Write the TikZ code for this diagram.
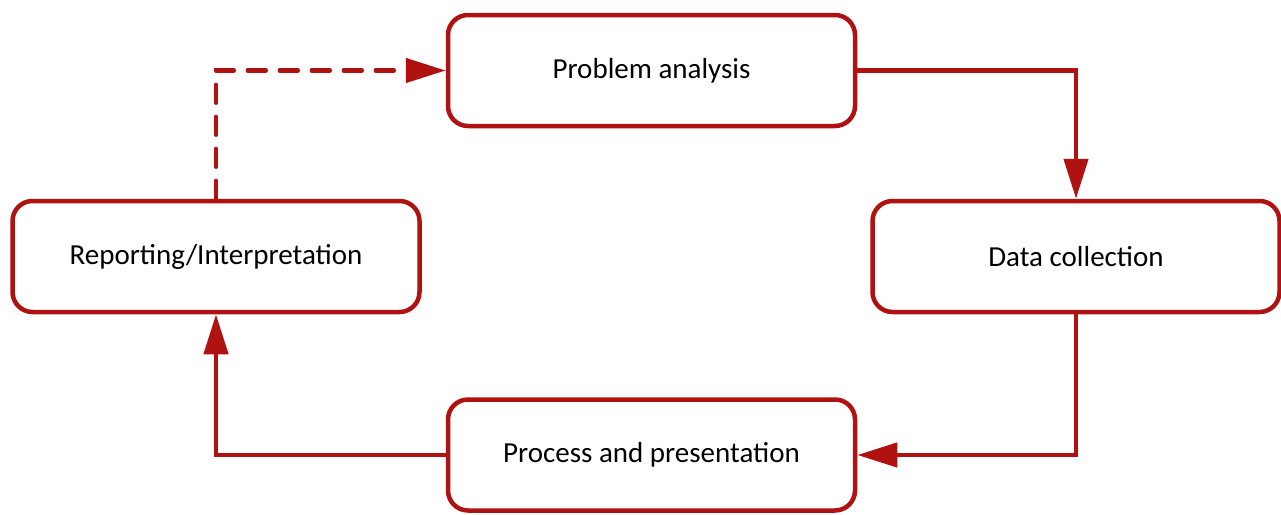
\documentclass[tikz,border=0pt]{standalone}
\usepackage{fontspec}
\setmainfont{Carlito}
\usetikzlibrary{arrows.meta}
\definecolor{boxred}{RGB}{176,18,18}
\tikzset{
  stagebox/.style={draw=boxred, line width=4.5pt, rounded corners=20pt, fill=white,
    minimum width=407pt, minimum height=111pt, inner sep=0pt, font=\fontsize{29}{34}\selectfont},
  flow/.style={draw=boxred, line width=4.5pt, -{Triangle[length=40pt,width=24pt]}},
  dashflow/.style={flow, dash pattern=on 18pt off 14pt, line cap=round}
}
\begin{document}
\begin{tikzpicture}[x=1pt,y=-1pt]
\useasboundingbox (0,0) rectangle (1281,514);
\node[stagebox] (pa) at (651.5,70.5) {Problem analysis};
\node[stagebox] (dc) at (1076,256.5) {Data collection};
\node[stagebox] (rp) at (216,256.5) {Reporting/Interpretation};
\node[stagebox] (pp) at (651.5,455) {Process and presentation};
\draw[flow] (pa.east) -| (dc.north);
\draw[flow] (dc.south) |- (pp.east);
\draw[flow] (pp.west) -| (rp.south);
\draw[dashflow] (rp.north) |- (pa.west);
\end{tikzpicture}
\end{document}
